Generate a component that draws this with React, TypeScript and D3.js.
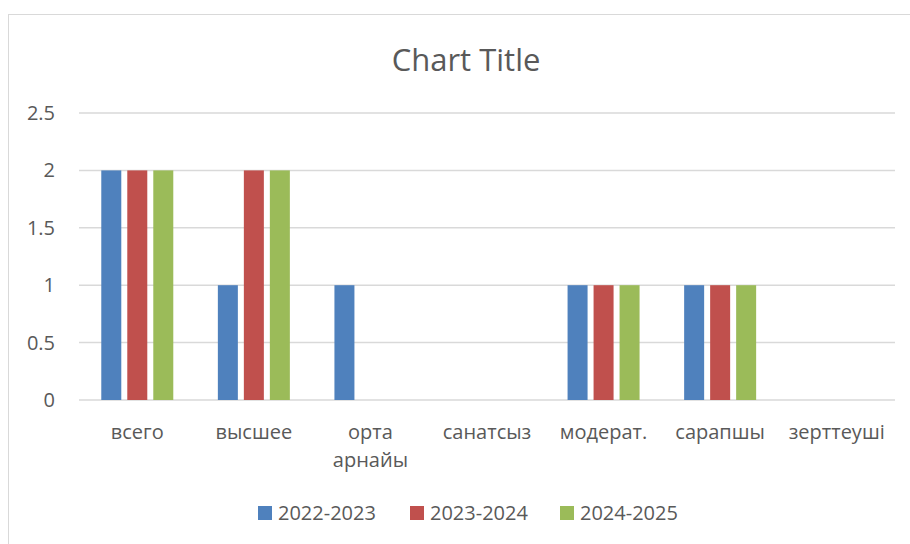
import * as d3 from 'd3';
import { useEffect, useRef } from 'react';

const categories = ['всего', 'высшее', 'орта арнайы', 'санатсыз', 'модерат.', 'сарапшы', 'зерттеуші'];
const seriesNames = ['2022-2023', '2023-2024', '2024-2025'];
const values2022 = [2, 1, 1, 0, 1, 1, 0];
const values2023 = [2, 2, 0, 0, 1, 1, 0];
const values2024 = [2, 2, 0, 0, 1, 1, 0];
const colors = ['#4F81BD', '#C0504D', '#9BBB59'];
const yTicks = [0, 0.5, 1, 1.5, 2, 2.5];

const W = 910;
const H = 544;
const FONT = '"Open Sans", "Liberation Sans", sans-serif';
const TEXT = '#595959';

const App = () => {
  const svgRef = useRef<SVGSVGElement>(null);

  useEffect(() => {
    const svg = d3.select(svgRef.current);
    svg.selectAll('*').remove();

    const margin = { top: 113, right: 15, bottom: 144, left: 79 };
    const width = W - margin.left - margin.right;
    const height = H - margin.top - margin.bottom;

    // chart area border
    svg.append('rect')
      .attr('x', 8.5).attr('y', 14.5)
      .attr('width', W + 20).attr('height', H + 20)
      .attr('fill', '#fff').attr('stroke', '#D9D9D9');

    svg.append('text')
      .attr('x', 466).attr('y', 60)
      .attr('dy', '0.35em')
      .attr('text-anchor', 'middle')
      .attr('font-family', FONT).attr('font-size', 31)
      .attr('fill', TEXT)
      .text('Chart Title');

    const g = svg.append('g').attr('transform', `translate(${margin.left},${margin.top})`);

    const x = d3.scaleBand().domain(categories).range([0, width]);
    const y = d3.scaleLinear().domain([0, 2.5]).range([height, 0]);

    // gridlines
    g.append('g').selectAll('line').data(yTicks).join('line')
      .attr('x1', 0).attr('x2', width)
      .attr('y1', d => y(d)).attr('y2', d => y(d))
      .attr('stroke', '#D9D9D9').attr('stroke-width', 1.5);

    // y labels
    g.append('g').selectAll('text').data(yTicks).join('text')
      .attr('x', -24).attr('y', d => y(d))
      .attr('dy', '0.35em')
      .attr('text-anchor', 'end')
      .attr('font-family', FONT).attr('font-size', 20)
      .attr('fill', TEXT)
      .text(d => d3.format('')(d));

    // bars
    const series = [values2022, values2023, values2024];
    const barW = 20;
    const step = 26;
    series.forEach((vals, si) => {
      g.append('g').selectAll('rect').data(vals.map((v, i) => ({ v, c: categories[i] })).filter(d => d.v > 0)).join('rect')
        .attr('x', d => x(d.c)! + x.bandwidth() / 2 - step - barW / 2 + si * step)
        .attr('y', d => y(d.v))
        .attr('width', barW)
        .attr('height', d => y(0) - y(d.v))
        .attr('fill', colors[si]);
    });

    // x labels
    const xl = g.append('g').selectAll('text').data(categories).join('text')
      .attr('y', height + 32)
      .attr('text-anchor', 'middle')
      .attr('font-family', FONT).attr('font-size', 20)
      .attr('fill', TEXT);
    xl.each(function (d) {
      const words = d.split(' ');
      d3.select(this).selectAll('tspan').data(words).join('tspan')
        .attr('x', x(d)! + x.bandwidth() / 2)
        .attr('dy', (_, i) => (i === 0 ? '0.35em' : 28))
        .text(w => w);
    });

    // legend
    const legend = svg.append('g').attr('transform', 'translate(258,513)');
    const itemX = [0, 152, 302];
    seriesNames.forEach((name, i) => {
      const it = legend.append('g').attr('transform', `translate(${itemX[i]},0)`);
      it.append('rect').attr('x', 0).attr('y', -7).attr('width', 14).attr('height', 14).attr('fill', colors[i]);
      it.append('text').attr('x', 20).attr('y', 0).attr('dy', '0.35em')
        .attr('font-family', FONT).attr('font-size', 20).attr('fill', TEXT)
        .text(name);
    });
  }, []);

  return <svg ref={svgRef} width={W} height={H} style={{ position: 'absolute', left: 0, top: 0, display: 'block' }} />;
};

export default App;
